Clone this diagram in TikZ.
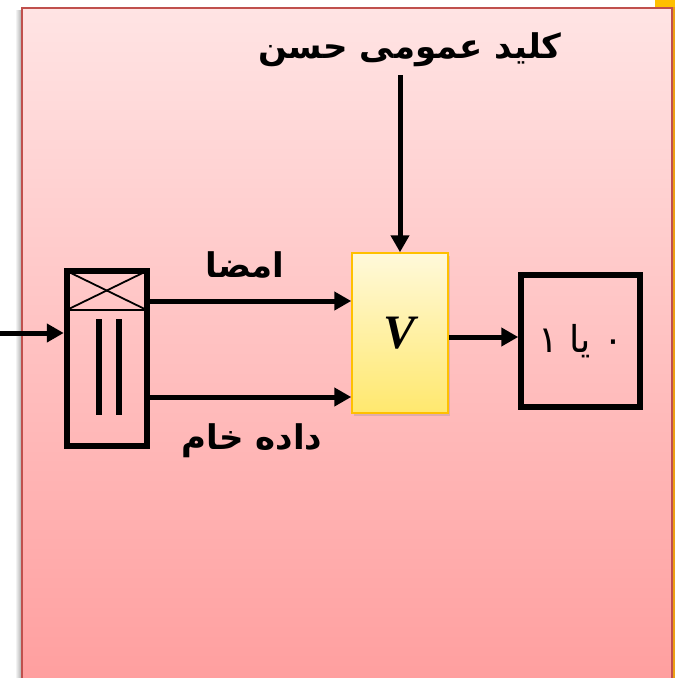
\documentclass[tikz,border=0pt]{standalone}
\usepackage{fontspec}
\usepackage{xcolor}
\usetikzlibrary{arrows.meta,positioning,calc,shadows}
\TeXXeTstate=1
\newfontfamily\arabicfont[Script=Arabic]{DejaVu Sans}
\newfontfamily\vfont{Liberation Serif}
\definecolor{bgTop}{RGB}{255,228,228}
\definecolor{bgBot}{RGB}{255,158,158}
\definecolor{frameRed}{RGB}{192,80,77}
\definecolor{vTop}{RGB}{255,249,218}
\definecolor{vBot}{RGB}{255,232,110}
\definecolor{vGold}{RGB}{255,192,0}
\definecolor{slideOrange}{RGB}{236,160,20}
\begin{document}
\begin{tikzpicture}[x=1pt,y=-1pt,
  store/.style={rectangle, draw, line width=6pt, minimum width=80pt,
                minimum height=175pt, inner sep=0pt},
  outbox/.style={rectangle, draw, line width=5.5pt, minimum width=119pt,
                 minimum height=132pt, font=\arabicfont\fontsize{37}{40}\selectfont},
  vbox/.style={rectangle, draw=vGold, line width=1.5pt, top color=vTop,
               bottom color=vBot, minimum width=96pt, minimum height=160pt,
               font=\vfont\bfseries\itshape\fontsize{48}{52}\selectfont,
               drop shadow={opacity=0.25, shadow xshift=2pt, shadow yshift=-3pt}},
  lab/.style={font=\arabicfont\bfseries\fontsize{34}{38}\selectfont, inner sep=0pt},
  arr/.style={-{Triangle[length=17pt,width=18pt]}, line width=5pt},
  fine/.style={line width=1.8pt}
]
\useasboundingbox (0,0) rectangle (675,678);

% slide background
\shade[left color=white, right color=black!30] (15,10) rectangle (21,678);
\shade[top color=bgTop, bottom color=bgBot] (21.7,7.7) rectangle (671.7,690);
\draw[frameRed, line width=2pt] (21.7,690) -- (21.7,7.7) -- (671.7,7.7) -- (671.7,690);
\fill[slideOrange] (672.7,0) rectangle (675,678);
\fill[vGold] (655,0) rectangle (675,6.7);

\node[store]  (store)  at (106.75,358.5) {};
\node[vbox]   (verify) at (400,333)      {V};
\node[outbox] (result) at (580.5,341)    {\beginR ۰ یا ۱\endR};

\node[lab] (key)  at (410,50)  {\beginR کلید عمومی حسن\endR};
\node[lab] (sig)  at (245,265) {\beginR امضا\endR};
\node[lab] (data) at (252,441) {\beginR داده خام\endR};

% inside the store box
\draw[fine] ($(store.north west)+(0,42)$) -- ($(store.north east)+(0,42)$);
\draw[fine] ($(store.north west)+(3,3)$) -- ($(store.north east)+(-3,42)$);
\draw[fine] ($(store.north west)+(3,42)$) -- ($(store.north east)+(-3,3)$);
\draw[line width=6pt] (99,319) -- (99,415);
\draw[line width=6pt] (119,319) -- (119,415);

\coordinate (in) at (0,333);
\draw[arr] (in) -- (in -| store.west);
\draw[arr] (store.east |- 0,301) -- (verify.west |- 0,301);
\draw[arr] (store.east |- 0,397) -- (verify.west |- 0,397);
\draw[arr] ($(key.south -| verify.north)+(0,8)$) -- (verify.north);
\draw[arr] (verify.east |- 0,337) -- (result.west |- 0,337);

\end{tikzpicture}
\end{document}
